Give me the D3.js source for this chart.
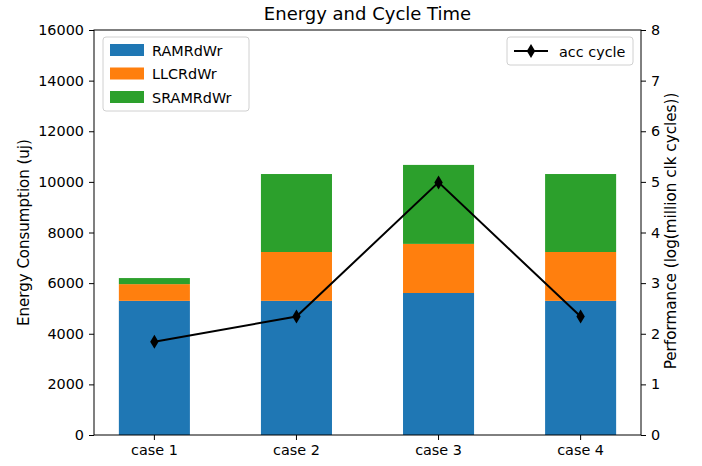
<!DOCTYPE html>
<html>
<head>
<meta charset="utf-8">
<script src="https://cdn.jsdelivr.net/npm/d3@7"></script>
<style>
  body { margin: 0; background: #fff; }
  svg text { font-family: "DejaVu Sans", sans-serif; fill: #000; }
</style>
</head>
<body>
<svg id="chart" width="702" height="466"></svg>
<script>
// data
const cases = ["case 1", "case 2", "case 3", "case 4"];
const ramRdWr = [5300, 5300, 5610, 5300];
const llcRdWr = [660, 1930, 1940, 1930];
const sramRdWr = [240, 3080, 3120, 3080];
const accCycle = [1.84, 2.34, 4.99, 2.34];
const leftTicks = [0, 2000, 4000, 6000, 8000, 10000, 12000, 14000, 16000];
const rightTicks = [0, 1, 2, 3, 4, 5, 6, 7, 8];

const seriesNames = ["RAMRdWr", "LLCRdWr", "SRAMRdWr"];
const colors = ["#1f77b4", "#ff7f0e", "#2ca02c"];

const fs = "14.4px";
const margin = { left: 94, right: 61, top: 30, bottom: 31 };
const W = 702, H = 466;
const innerW = W - margin.left - margin.right;
const innerH = H - margin.top - margin.bottom;

const svg = d3.select("#chart");
const g = svg.append("g").attr("transform", "translate(" + margin.left + "," + margin.top + ")");

const x = d3.scaleBand()
  .domain(cases)
  .range([0, innerW])
  .paddingInner(0.5)
  .paddingOuter(0.175);

const yL = d3.scaleLinear().domain([0, 16000]).range([innerH, 0]);
const yR = d3.scaleLinear().domain([0, 8]).range([innerH, 0]);

// stacked bars
const rows = cases.map((c, i) => ({ c: c, RAMRdWr: ramRdWr[i], LLCRdWr: llcRdWr[i], SRAMRdWr: sramRdWr[i] }));
const stack = d3.stack().keys(seriesNames)(rows);

g.selectAll("g.layer")
  .data(stack)
  .enter()
  .append("g")
  .attr("fill", (d, i) => colors[i])
  .selectAll("rect")
  .data(d => d)
  .enter()
  .append("rect")
  .attr("x", d => x(d.data.c))
  .attr("y", d => yL(d[1]))
  .attr("width", x.bandwidth())
  .attr("height", d => yL(d[0]) - yL(d[1]));

// line
const cx = c => x(c) + x.bandwidth() / 2;
g.append("path")
  .datum(accCycle)
  .attr("fill", "none")
  .attr("stroke", "#000")
  .attr("stroke-width", 2)
  .attr("d", d3.line().x((d, i) => cx(cases[i])).y(d => yR(d)));

const diamond = "M0,-7 L4.2,0 L0,7 L-4.2,0 Z";
g.selectAll("path.mk")
  .data(accCycle)
  .enter()
  .append("path")
  .attr("class", "mk")
  .attr("d", diamond)
  .attr("fill", "#000")
  .attr("transform", (d, i) => "translate(" + cx(cases[i]) + "," + yR(d) + ")");

// axes
function styleAxis(sel) {
  sel.selectAll("text").style("font-size", fs).style("font-family", "DejaVu Sans, sans-serif");
  sel.selectAll("line").attr("stroke", "#000");
  sel.select(".domain").remove();
}

g.append("g")
  .call(d3.axisLeft(yL).tickValues(leftTicks).tickSize(5).tickPadding(5).tickFormat(d3.format("d")))
  .call(styleAxis);

g.append("g")
  .attr("transform", "translate(" + innerW + ",0)")
  .call(d3.axisRight(yR).tickValues(rightTicks).tickSize(5).tickPadding(5))
  .call(styleAxis);

g.append("g")
  .attr("transform", "translate(0," + innerH + ")")
  .call(d3.axisBottom(x).tickSize(5).tickPadding(5))
  .call(styleAxis);

// frame
g.append("rect")
  .attr("width", innerW).attr("height", innerH)
  .attr("fill", "none").attr("stroke", "#000").attr("stroke-width", 1);

// title and labels
svg.append("text")
  .attr("x", margin.left + innerW / 2).attr("y", 20)
  .attr("text-anchor", "middle").style("font-size", "18px")
  .text("Energy and Cycle Time");

svg.append("text")
  .attr("transform", "translate(29," + (margin.top + innerH / 2) + ") rotate(-90)")
  .attr("text-anchor", "middle").style("font-size", "15px")
  .text("Energy Consumption (uj)");

svg.append("text")
  .attr("transform", "translate(676,231) rotate(-90)")
  .attr("text-anchor", "middle").style("font-size", "15.2px")
  .text("Performance (log(million clk cycles))");

// left legend
const lg = svg.append("g").attr("transform", "translate(103,37)");
lg.append("rect").attr("width", 146).attr("height", 74).attr("rx", 3)
  .attr("fill", "#fff").attr("fill-opacity", 0.8).attr("stroke", "#d0d0d0");
seriesNames.forEach((s, i) => {
  lg.append("rect").attr("x", 7).attr("y", 7 + i * 23.5).attr("width", 34).attr("height", 12).attr("fill", colors[i]);
  lg.append("text").attr("x", 49).attr("y", 18.5 + i * 23.5).style("font-size", fs).text(s);
});

// right legend
const rg = svg.append("g").attr("transform", "translate(507,37)");
rg.append("rect").attr("width", 126).attr("height", 28).attr("rx", 3)
  .attr("fill", "#fff").attr("fill-opacity", 0.8).attr("stroke", "#d0d0d0");
rg.append("line").attr("x1", 7).attr("x2", 41).attr("y1", 14).attr("y2", 14).attr("stroke", "#000").attr("stroke-width", 2);
rg.append("path").attr("d", diamond).attr("fill", "#000").attr("transform", "translate(24,14)");
rg.append("text").attr("x", 52).attr("y", 19.5).style("font-size", fs).text("acc cycle");
</script>
</body>
</html>
